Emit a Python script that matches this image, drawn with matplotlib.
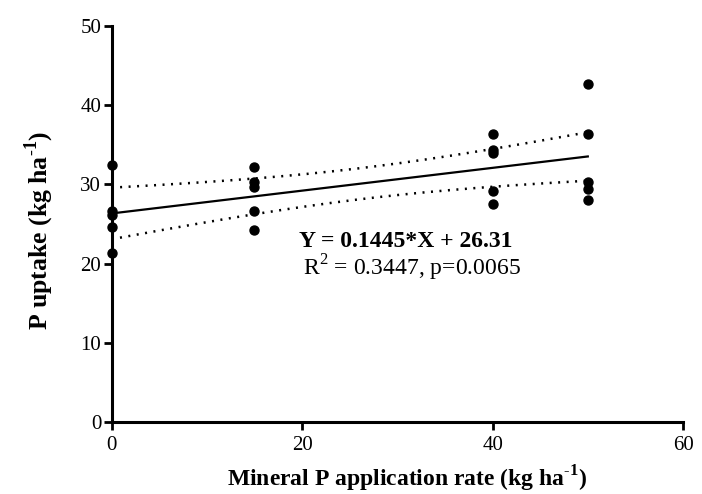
import numpy as np
import matplotlib
matplotlib.use('Agg')
import matplotlib.pyplot as plt

# Datos (5 repeticiones por dosis)
dosis = [0, 15, 40, 50]
uptake_0 = [32.5, 26.6, 26.1, 24.6, 21.3]
uptake_15 = [32.2, 30.3, 29.7, 26.6, 24.2]
uptake_40 = [36.3, 34.3, 34.0, 29.2, 27.5]
uptake_50 = [42.7, 36.3, 30.3, 29.4, 28.0]
x_ticks = [0, 20, 40, 60]
y_ticks = [0, 10, 20, 30, 40, 50]

plt.rcParams['font.family'] = ['Liberation Serif', 'DejaVu Serif']
plt.rcParams['mathtext.fontset'] = 'custom'
plt.rcParams['mathtext.rm'] = 'Liberation Serif'
plt.rcParams['mathtext.bf'] = 'Liberation Serif:bold'

grupos = [uptake_0, uptake_15, uptake_40, uptake_50]
x = np.concatenate([[d] * len(g) for d, g in zip(dosis, grupos)]).astype(float)
y = np.concatenate(grupos)

# Regresion lineal y banda de confianza 95%
pend, inter = np.polyfit(x, y, 1)
n = len(x)
resid = y - (pend * x + inter)
s = np.sqrt(np.sum(resid ** 2) / (n - 2))
sxx = np.sum((x - x.mean()) ** 2)
t = 2.101  # t(0.975, 18 gl)
xl = np.linspace(0, 50, 200)
yl = pend * xl + inter
banda = t * s * np.sqrt(1 / n + (xl - x.mean()) ** 2 / sxx)

fig = plt.figure(figsize=(7.02, 4.94), dpi=100)
ax = fig.add_axes([0.159, 0.145, 0.814, 0.803])

ax.plot(xl, yl, color='black', lw=1.6)
ax.plot(xl, yl + banda, color='black', lw=1.8, ls=(0, (0.8, 2.6)))
ax.plot(xl, yl - banda, color='black', lw=1.8, ls=(0, (0.8, 2.6)))
ax.scatter(x, y, s=42, color='black', zorder=3, clip_on=False)

ax.set_xlim(0, 60)
ax.set_ylim(0, 50)
ax.set_xticks(x_ticks)
ax.set_yticks(y_ticks)
for lado in ['top', 'right']:
    ax.spines[lado].set_visible(False)
for lado in ['left', 'bottom']:
    ax.spines[lado].set_linewidth(2.2)
ax.tick_params(direction='out', length=5.5, width=2, labelsize=15)
ax.tick_params(axis='y', pad=2)
ax.tick_params(axis='x', pad=4)

sup = r'$^{\mathbf{\text{-}1}}$'
ax.set_xlabel('Mineral P application rate (kg ha' + sup + ')',
              fontsize=17, fontweight='bold')
ax.xaxis.set_label_coords(0.517, -0.105)
ax.set_ylabel('P uptake (kg ha' + sup + ')',
              fontsize=18.5, fontweight='bold')
ax.yaxis.set_label_coords(-0.098, 0.485)

ax.text(0.515, 0.443, 'Y = 0.1445*X + 26.31', transform=ax.transAxes,
        ha='center', va='baseline', fontsize=17, fontweight='bold')
ax.text(0.525, 0.371, r'R$^2$ = 0.3447, p=0.0065', transform=ax.transAxes,
        ha='center', va='baseline', fontsize=17)

fig.savefig('out.png', dpi=100)
